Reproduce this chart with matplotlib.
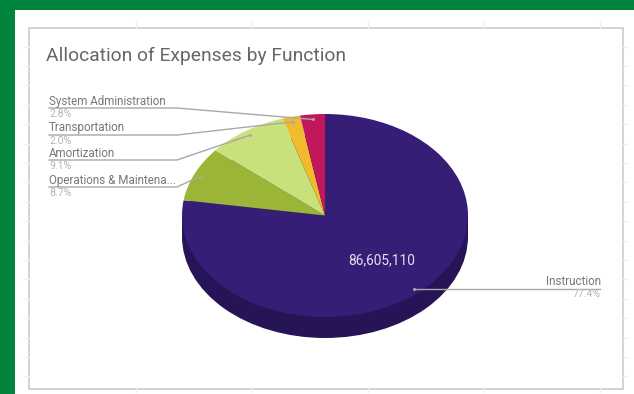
import numpy as np
import matplotlib
matplotlib.use('Agg')
import matplotlib.pyplot as plt
from matplotlib.patches import Rectangle, Ellipse

plt.rcParams['font.family'] = ['Roboto', 'DejaVu Sans']

title = 'Allocation of Expenses by Function'
labels = ['Instruction', 'Operations & Maintena...', 'Amortization', 'Transportation', 'System Administration']
shares = [77.4, 8.7, 9.1, 2.0, 2.8]
colors = ['#361d75', '#9bb636', '#c8e17a', '#f0bc2e', '#c2185b']
inside_label = '86,605,110'

W, H = 634, 394
cx, cy, rx, ry = 325, 215.5, 143, 101.5
depth = 21

fig = plt.figure(figsize=(W / 100, H / 100), dpi=100, facecolor='#00843d')

# pixel canvas for the page, card and labels
bg = fig.add_axes([0, 0, 1, 1], zorder=0)
bg.set_xlim(0, W)
bg.set_ylim(H, 0)
bg.axis('off')
bg.add_patch(Rectangle((15, 10), W - 15, H - 10, fc='white', ec='none'))

# faint gridline stubs poking out of the card
for y in np.arange(46.5, 380, 19.4):
    bg.plot([23, 29], [y, y], color='#f0f0f0', lw=0.9)
    bg.plot([623, 628], [y, y], color='#f0f0f0', lw=0.9)
for x in [136, 252, 368, 484, 600]:
    bg.plot([x, x], [22, 28], color='#f0f0f0', lw=0.9)
    bg.plot([x, x], [388, 392], color='#f0f0f0', lw=0.9)
bg.add_patch(Rectangle((29, 27.5), 594, 361, fc='white', ec='#c8c8c8', lw=1.1))

bg.text(46, 56, title, fontsize=13.85, color='#666666', va='center', ha='left')

# pie axes stretched so the circle becomes an ellipse
ax = fig.add_axes([(cx - rx) / W, 1 - (cy + ry) / H, 2 * rx / W, 2 * ry / H], zorder=1)
ax.pie(shares, colors=colors, startangle=90, counterclock=False, radius=1,
       wedgeprops={'linewidth': 0})
ax.set_aspect('auto')
ax.set_xlim(-1, 1)
ax.set_ylim(-1, 1)
ax.axis('off')
side = depth / ry
ax.add_patch(Ellipse((0, -side), 2, 2, fc='#261456', ec='none', zorder=0, clip_on=False))
ax.add_patch(Rectangle((-1, -side), 2, side, fc='#261456', ec='none', zorder=0, clip_on=False))

# leader lines go on top of the pie
top = fig.add_axes([0, 0, 1, 1], zorder=2)
top.set_xlim(0, W)
top.set_ylim(H, 0)
top.axis('off')
top.patch.set_alpha(0)

ends = np.cumsum(shares)
mids = np.radians((ends - np.array(shares) / 2) * 3.6)
anchor_x = cx + 0.95 * rx * np.sin(mids)
anchor_y = cy - 0.95 * ry * np.cos(mids)

line_y = {'Operations & Maintena...': 187, 'Amortization': 160, 'Transportation': 135, 'System Administration': 108}
for i, name in enumerate(labels):
    pct = '{:.1f}%'.format(shares[i])
    if name == 'Instruction':
        top.plot([anchor_x[i], 600], [anchor_y[i], anchor_y[i]], color='#a8a8a8', lw=1)
        top.text(601, anchor_y[i] - 0.5, name, fontsize=8.4, color='#777777', ha='right', va='bottom')
        top.text(601, anchor_y[i] + 0.5, pct, fontsize=7.6, color='#b5b5b5', ha='right', va='top')
    else:
        y = line_y[name]
        top.plot([49, 177, anchor_x[i]], [y, y, anchor_y[i]], color='#a8a8a8', lw=1)
        top.text(49, y - 0.5, name, fontsize=8.4, color='#777777', ha='left', va='bottom')
        top.text(49, y + 0.5, pct, fontsize=7.6, color='#b5b5b5', ha='left', va='top')
    top.plot(anchor_x[i], anchor_y[i], 'o', color='#a8a8a8', ms=2.2, mew=0)

top.text(382, 260, inside_label, fontsize=9.9, color='#e4e0ee', ha='center', va='center')

fig.savefig('out.png', dpi=100, facecolor=fig.get_facecolor())
